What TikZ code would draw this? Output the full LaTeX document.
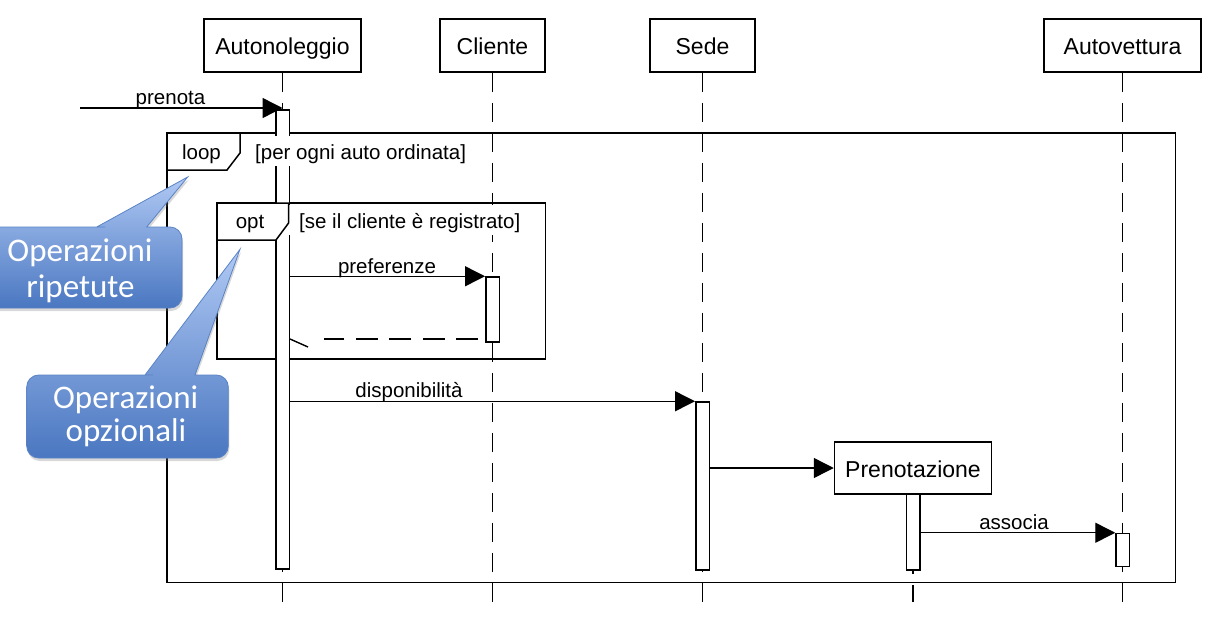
\documentclass[tikz,border=0pt]{standalone}
\usepackage{fontspec}
\setmainfont{Liberation Sans}
\newfontfamily\calloutfont{Carlito}
\usetikzlibrary{arrows.meta,shadows}
\definecolor{calltop}{HTML}{B0C9F4}
\definecolor{callbot}{HTML}{4A77C1}
\definecolor{callline}{HTML}{5A83C6}
\tikzset{
  head/.style={draw, fill=white, line width=1.5pt, minimum height=53pt, inner sep=0pt, text height=18pt, text depth=0pt, font=\fontsize{23}{26}\selectfont},
  bar/.style={draw, fill=white, line width=1.5pt, minimum width=13.5pt, inner sep=0pt},
  lifeline/.style={line width=1.4pt, dash pattern=on 19pt off 11pt},
  msg/.style={line width=1.4pt, -{Triangle[length=20pt,width=20pt]}},
  reply/.style={line width=1.4pt, dash pattern=on 22pt off 11.4pt},
  lbl/.style={font=\fontsize{20.5}{24}\selectfont, anchor=base, inner sep=0pt},
  guard/.style={font=\fontsize{20.5}{24}\selectfont, anchor=base west, fill=white, text height=22pt, text depth=5pt, inner ysep=1.5pt},
  frameline/.style={line width=1.5pt},
  callout/.style={draw=callline, line width=0.8pt, top color=calltop, bottom color=callbot,
    drop shadow={opacity=0.3, shadow xshift=1pt, shadow yshift=-3pt}},
  calltext/.style={font=\calloutfont\fontsize{33}{36}\selectfont, text=white, anchor=base, inner sep=0pt},
}
\begin{document}
\begin{tikzpicture}[x=1pt,y=-1pt]
\useasboundingbox (0,0) rectangle (1222,634);
\fill[white] (0,0) rectangle (1222,634);

% lifeline heads
\node[head, minimum width=157pt] (A) at (282.5,45.5) {Autonoleggio};
\node[head, minimum width=105pt] (C) at (492.5,45.5) {Cliente};
\node[head, minimum width=105pt] (S) at (702.5,45.5) {Sede};
\node[head, minimum width=157pt] (V) at (1122.5,45.5) {Autovettura};

% lifeline ends
\coordinate (Aend) at (282.5,602);
\coordinate (Cend) at (492.5,602);
\coordinate (Send) at (702.5,602);
\coordinate (Vend) at (1122.5,602);
\coordinate (Pend) at (913,602);

\draw[lifeline] (A.south) -- (Aend);
\draw[lifeline] (C.south) -- (Cend);
\draw[lifeline] (S.south) -- (Send);
\draw[lifeline] (V.south) -- (Vend);

% frames
\draw[frameline] (167,133) rectangle (1175.5,582.5);
\draw[frameline] (217,203) rectangle (545.4,359);

% created object
\node[head, minimum width=157pt, minimum height=52pt] (P) at (913,468) {Prenotazione};
\draw[lifeline] (P.south) -- (Pend);

% activation bars
\node[bar, minimum height=459pt] (barA) at (282.5,339.5) {};
\node[bar, minimum height=65pt] (barC) at (492.5,309.5) {};
\node[bar, minimum height=168pt] (barS) at (702.5,486) {};
\node[bar, minimum height=76pt] (barP) at (913,532) {};
\node[bar, minimum height=33pt] (barV) at (1122.75,550) {};

% guards
\node[guard, inner xsep=3pt] (g1) at (252,159.3) {[per ogni auto ordinata]};
\node[guard, inner xsep=12pt] (g2) at (287,228.3) {[se il cliente è registrato]};

% frame labels
\draw[frameline] (167,133) -- (240,133) -- (240,153) -- (227,170) -- (167,170);
\node[lbl] (loopT) at (201.5,159) {loop};
\filldraw[frameline, fill=white] (217,203) -- (288.6,203) -- (288.6,223) -- (276,240) -- (217,240) -- cycle;
\node[lbl] (optT) at (250,228.3) {opt};

% messages
\coordinate (pstart) at (80,108);
\draw[msg] (pstart) -- (pstart -| A);
\node[lbl] (lp) at (170.5,104) {prenota};

\draw[msg] (barA.east |- barC.north) -- (barC.north west);
\node[lbl] (lpref) at (387,273.3) {preferenze};

\coordinate (yRet) at (0,339);
\draw[reply, shorten <=7pt, shorten >=34pt] (barC.west |- yRet) -- (barA.east |- yRet);
\draw[line width=1.4pt] (barA.east |- yRet) -- ++(18,8);

\draw[msg] (barA.east |- barS.north) -- (barS.north west);
\node[lbl] (ldisp) at (409,397) {disponibilità};

\draw[msg] (barS.east |- P.west) -- (P.west);

\draw[msg] (barP.east |- barV.north) -- (barV.north west);
\node[lbl] (lass) at (1014,529.5) {associa};

% callouts
\path[callout] (96.7,227) -- (187.7,177) -- (146.7,227) -- (150,227) [rounded corners=12pt] -- (182,227) -- (182,308) -- (-22,308) -- (-22,227) -- (93,227) [sharp corners] -- cycle;
\node[calltext] (t1a) at (80,261.7) {Operazioni};
\node[calltext] (t1b) at (80.5,297.7) {ripetute};

\path[callout] (145,375) -- (240,249.3) -- (195,375) -- (198,375) [rounded corners=12pt] -- (228.3,375) -- (228.3,458) -- (26.7,458) -- (26.7,375) -- (141,375) [sharp corners] -- cycle;
\node[calltext] (t2a) at (125.7,408.3) {Operazioni};
\node[calltext] (t2b) at (126,441.7) {opzionali};
\end{tikzpicture}
\end{document}
